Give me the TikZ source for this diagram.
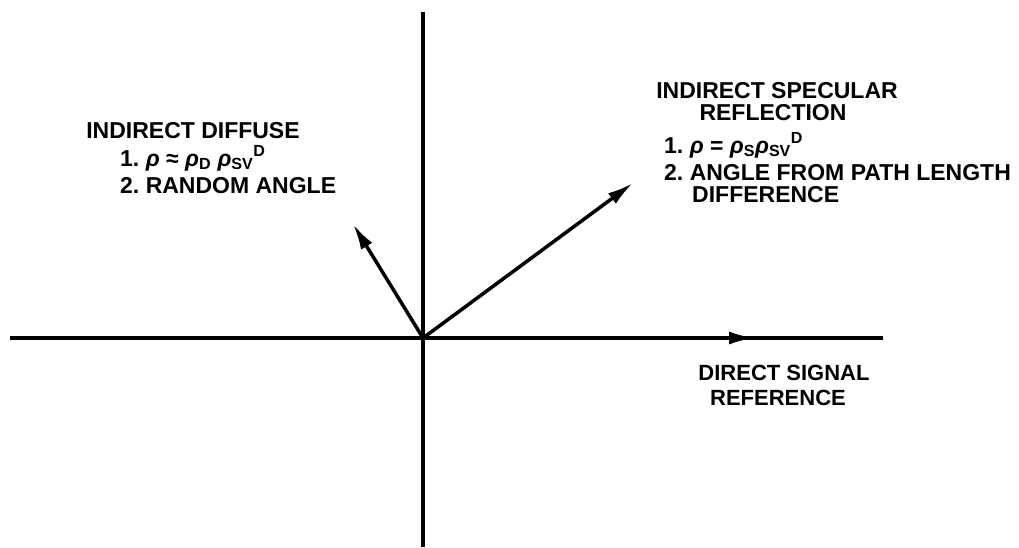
\documentclass[tikz,border=0pt]{standalone}
\usepackage{fontspec}
\setmainfont{Liberation Sans}
\usetikzlibrary{positioning, arrows.meta, calc}
\newcommand{\rhoit}{\textit{ρ}}

\begin{document}
\begin{tikzpicture}[x=1pt, y=-1pt,
    axis/.style={line width=3.5pt, black},
    vec/.style={line width=3.5pt, black, -{Latex[length=26pt, width=13pt]}},
    lbl/.style={font=\fontsize{23}{23}\selectfont\bfseries, inner sep=0pt, anchor=base}]
    \useasboundingbox (0,0) rectangle (1019,547);
    % Points
    \coordinate (O) at (423,338);
    \coordinate (N) at (423,12);
    \coordinate (S) at (423,547);
    \coordinate (W) at (10,338);
    \coordinate (E) at (883,338);
    \coordinate (R) at (755,338);
    \coordinate (D) at (353,224);
    \coordinate (P) at (633,183);

    % Axes and vectors
    \draw[axis] (N) -- (S);
    \draw[axis] (W) -- (E);
    \draw[vec] (O) -- (R);
    \draw[vec] (O) -- (D);
    \draw[vec] (O) -- (P);

    % Labels, diffuse
    \node[lbl] (difftitle) at (193,138) {INDIRECT DIFFUSE};
    \node[lbl, anchor=base west] (diffone) at (120,166) {1.\ \rhoit\ ≈ \rhoit\textsubscript{D} \rhoit\textsubscript{SV}\textsuperscript{D}};
    \node[lbl, anchor=base west] (difftwo) at (120,193) {2.\ RANDOM ANGLE};

    % Labels, specular
    \node[lbl] (spectitle) at (777,98) {INDIRECT SPECULAR};
    \node[lbl] (specsub) at (773,120) {REFLECTION};
    \node[lbl, anchor=base west] (specone) at (664,153) {1.\ \rhoit\ = \rhoit\textsubscript{S}\rhoit\textsubscript{SV}\textsuperscript{D}};
    \node[lbl, anchor=base west] (spectwo) at (664,180) {2.\ ANGLE FROM PATH LENGTH};
    \node[lbl, anchor=base west] (specthree) at (692,202) {DIFFERENCE};

    % Labels, direct
    \node[lbl, font=\fontsize{22}{22}\selectfont\bfseries] (dirtitle) at (784,380) {DIRECT SIGNAL};
    \node[lbl, font=\fontsize{22}{22}\selectfont\bfseries] (dirsub) at (778,405) {REFERENCE};
\end{tikzpicture}
\end{document}
